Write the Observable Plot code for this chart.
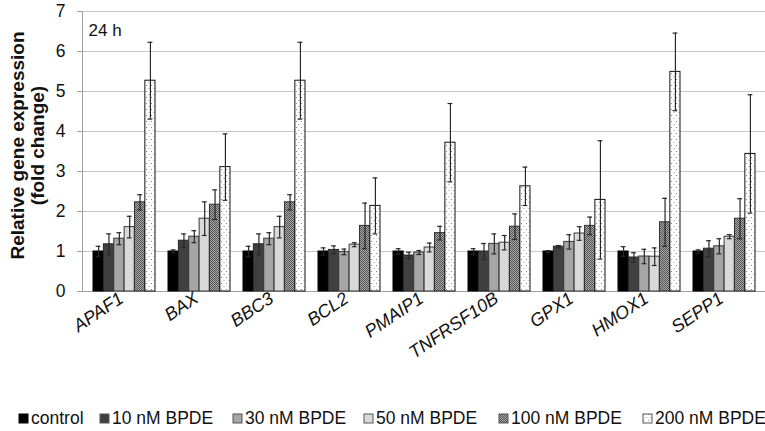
<!DOCTYPE html>
<html><head><meta charset="utf-8">
<script src="https://cdn.jsdelivr.net/npm/d3@7"></script>
<script src="https://cdn.jsdelivr.net/npm/@observablehq/plot@0.6"></script>
<style>
body{margin:0;background:#fff;font-family:"Liberation Sans",Arial,sans-serif;}
#wrap{position:relative;width:765px;height:431px;overflow:hidden;}
#legend{position:absolute;left:0;top:405px;width:765px;height:26px;font-size:17.5px;color:#111;}
.item{position:absolute;top:0;height:26px;display:flex;align-items:center;white-space:nowrap;}
.item svg{margin-right:2px;}
</style></head>
<body>
<svg width="0" height="0" style="position:absolute"><defs>
<pattern id="p100" width="2" height="2" patternUnits="userSpaceOnUse">
<rect width="2" height="2" fill="#a8a8a8"/><rect width="1" height="1" fill="#555"/><rect x="1" y="1" width="1" height="1" fill="#555"/>
</pattern>
<pattern id="p200" width="5" height="6" patternUnits="userSpaceOnUse">
<rect width="5" height="6" fill="#fff"/><rect x="1" y="1" width="1" height="1" fill="#8a8a8a"/><rect x="3.5" y="4" width="1" height="1" fill="#a0a0a0"/>
</pattern>
</defs></svg>
<div id="wrap"><div id="chart"></div><div id="legend"></div></div>
<script>
const genes = ["APAF1","BAX","BBC3","BCL2","PMAIP1","TNFRSF10B","GPX1","HMOX1","SEPP1"];
const series = ["control","10 nM BPDE","30 nM BPDE","50 nM BPDE","100 nM BPDE","200 nM BPDE"];
const control    = [1.00,1.00,1.00,1.00,1.00,1.00,1.00,1.00,1.00];
const controlErr = [0.13,0.04,0.13,0.09,0.07,0.07,0.02,0.12,0.04];
const nm10       = [1.18,1.27,1.18,1.04,0.90,1.00,1.12,0.85,1.07];
const nm10Err    = [0.26,0.17,0.26,0.10,0.08,0.20,0.03,0.12,0.20];
const nm30       = [1.32,1.37,1.32,0.99,0.975,1.19,1.24,0.875,1.13];
const nm30Err    = [0.15,0.15,0.15,0.07,0.05,0.25,0.18,0.18,0.19];
const nm50       = [1.61,1.82,1.61,1.17,1.10,1.22,1.45,0.87,1.37];
const nm50Err    = [0.27,0.42,0.27,0.05,0.11,0.18,0.17,0.22,0.05];
const nm100      = [2.23,2.17,2.23,1.64,1.46,1.62,1.64,1.73,1.82];
const nm100Err   = [0.19,0.37,0.19,0.57,0.17,0.32,0.22,0.60,0.50];
const nm200      = [5.27,3.11,5.27,2.14,3.72,2.63,2.29,5.49,3.44];
const nm200Err   = [0.96,0.83,0.96,0.70,0.98,0.48,1.48,0.97,1.48];
const yTicks = [0,1,2,3,4,5,6,7];
const timeLabel = "24 h";
const yLabel = "Relative gene expression\n(fold change)";

const values = [control, nm10, nm30, nm50, nm100, nm200];
const errors = [controlErr, nm10Err, nm30Err, nm50Err, nm100Err, nm200Err];
const fills = ["#000000","#404040","#a6a6a6","#d9d9d9","url(#p100)","url(#p200)"];
const strokes = ["#000000","#262626","#3a3a3a","#3a3a3a","#333333","#111111"];

const rows = series.map((s, i) => genes.map((g, j) => ({gene: g, series: s, value: values[i][j], err: errors[i][j]})));

const W = 765, H = 395, ML = 82, MR = 0, MT = 11, MB = 104;
const pi = 0.18, po = 0.09;
const step = (W - ML - MR) / (genes.length - pi + 2 * po);
const bw = step * (1 - pi);
const sw = bw / series.length;
const capHalf = 2.5;

const marks = [
  Plot.gridY(yTicks, {stroke: "#c8c8c8", strokeOpacity: 1}),
  Plot.frame({anchor: "left", stroke: "#a0a0a0"}),
  Plot.ruleY([0], {stroke: "#a0a0a0"}),
  Plot.axisY(yTicks, {tickSize: 5, tickPadding: 12, fontSize: 17.5, stroke: "#a0a0a0", fill: "#111", label: null}),
];
series.forEach((s, i) => {
  marks.push(Plot.barY(rows[i], {x: "gene", y: "value", fill: fills[i], stroke: strokes[i], strokeWidth: 1,
    insetLeft: i * sw, insetRight: (series.length - 1 - i) * sw}));
});
series.forEach((s, i) => {
  const dx = (i + 0.5) * sw - bw / 2;
  const il = i * sw + sw / 2 - capHalf, ir = (series.length - 1 - i) * sw + sw / 2 - capHalf;
  marks.push(Plot.ruleX(rows[i], {x: "gene", y1: d => d.value - d.err, y2: d => d.value + d.err, dx, stroke: "#262626", strokeWidth: 1.2}));
  marks.push(Plot.tickY(rows[i], {x: "gene", y: d => d.value + d.err, insetLeft: il, insetRight: ir, stroke: "#262626", strokeWidth: 1.2}));
  marks.push(Plot.tickY(rows[i], {x: "gene", y: d => d.value - d.err, insetLeft: il, insetRight: ir, stroke: "#262626", strokeWidth: 1.2}));
});
marks.push(Plot.axisX({tickRotate: -34, tickSize: 0, tickPadding: 5, dx: -3, fontSize: 18, fontStyle: "italic", fill: "#111", label: null}));
marks.push(Plot.text([timeLabel], {frameAnchor: "top-left", dx: 6, dy: 12, fontSize: 17, fill: "#111"}));
marks.push(Plot.text([yLabel], {frameAnchor: "left", dx: -55, dy: -6, rotate: -90, textAnchor: "middle", fontSize: 19, fontWeight: "bold", lineHeight: 1.08, fill: "#111"}));

const chart = Plot.plot({
  width: W, height: H, marginLeft: ML, marginRight: MR, marginTop: MT, marginBottom: MB,
  style: {fontFamily: "'Liberation Sans', Arial, sans-serif", background: "#fff", color: "#111", overflow: "visible"},
  x: {domain: genes, paddingInner: pi, paddingOuter: po},
  y: {domain: [0, 7]},
  marks
});
document.getElementById("chart").appendChild(chart);

const legendX = [18, 99, 232, 363, 498, 642];
const legend = d3.select("#legend");
series.forEach((s, i) => {
  const it = legend.append("div").attr("class", "item").style("left", legendX[i] + "px");
  const sv = it.append("svg").attr("width", 11).attr("height", 11);
  sv.append("rect").attr("x", 1).attr("y", 1).attr("width", 9).attr("height", 9)
    .attr("fill", fills[i]).attr("stroke", i === 0 ? "#000" : "#555").attr("stroke-width", 1);
  it.append("span").text(s);
});
</script>
</body></html>
